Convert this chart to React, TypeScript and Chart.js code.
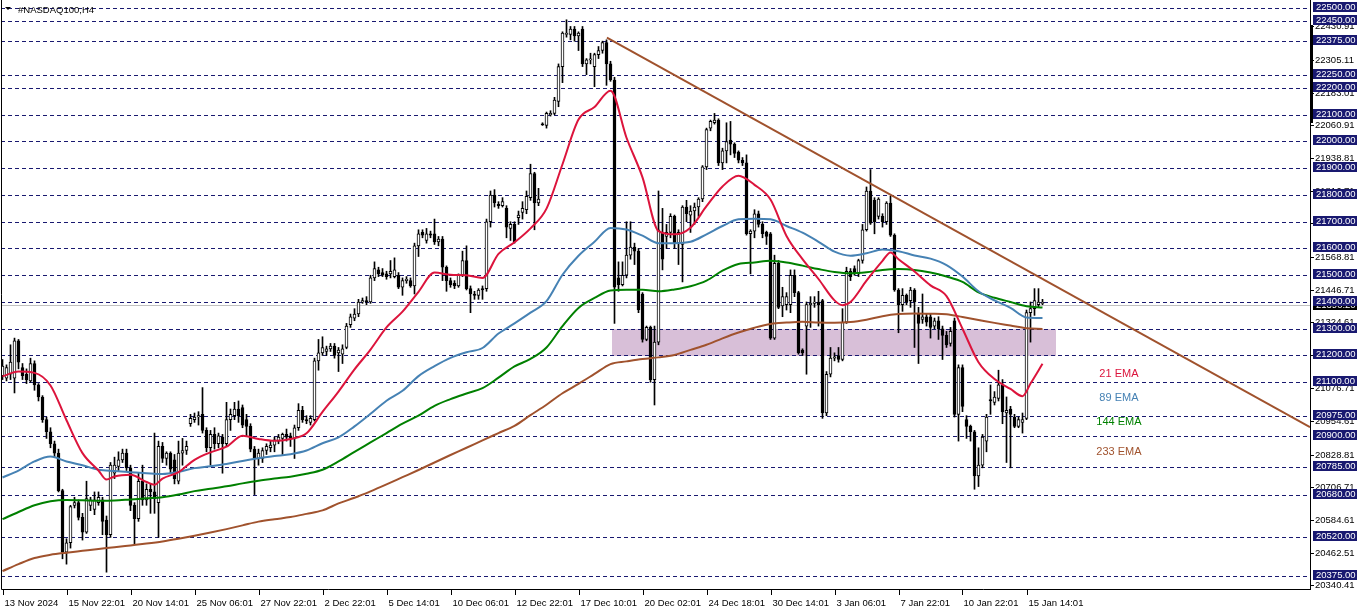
import React, { useEffect, useRef } from 'react';
import { Chart, registerables } from 'chart.js';

Chart.register(...registerables);

// ---------- DATA (H4 bars, bar 0 = 13 Nov 2024) ----------
const opens = [
  21125,21115,21130,21115,21255,21155,21130,21105,21170,21090,
  21045,20960,20915,20870,20835,20695,20465,20500,20640,20650,
  20595,20540,20640,20625,20650,20660,20585,20530,20760,20785,
  20810,20835,20780,20640,20590,20730,20660,20700,20690,20650,
  20860,20815,20835,20810,20730,20835,20845,20945,20960,20970,
  20980,20920,20855,20905,20870,20895,20870,20960,20975,21000,
  21005,20960,20935,20850,20815,20815,20845,20855,20865,20880,
  20890,20905,20900,20890,20930,20995,20960,20950,20960,21180,
  21210,21215,21225,21235,21210,21205,21230,21315,21340,21355,
  21400,21405,21400,21490,21520,21510,21505,21505,21495,21500,
  21455,21480,21480,21460,21610,21660,21630,21655,21655,21625,
  21635,21530,21480,21470,21460,21500,21555,21450,21430,21425,
  21450,21450,21700,21800,21765,21760,21750,21675,21690,21715,
  21735,21745,21790,21880,21770,22066,22060,22100,22105,22150,
  22280,22400,22400,22420,22395,22420,22290,22305,22280,22325,
  22340,22370,22290,22230,21490,21465,21500,21575,21605,21590,
  21430,21260,21305,21110,21250,21660,21645,21660,21720,21620,
  21615,21755,21725,21740,21755,21785,21905,22050,22070,22080,
  21920,21965,22005,21990,21960,21930,21920,21655,21665,21730,
  21690,21660,21655,21265,21545,21385,21390,21390,21500,21435,
  21220,21310,21390,21395,21400,21405,20985,21130,21190,21200,
  21185,21325,21515,21525,21505,21555,21670,21815,21780,21720,
  21720,21700,21770,21650,21445,21390,21425,21405,21445,21355,
  21335,21345,21345,21310,21330,21300,21275,21245,21330,20980,
  21155,20960,20935,20915,20750,20790,20880,21035,21025,21040,
  21090,20985,21000,20970,20935,20950,20965,21360,21375,21390,
  21395,
];
const highs = [
  21185,21165,21240,21265,21260,21170,21150,21190,21180,21095,
  21050,20970,20930,20880,20850,20700,20515,20640,20670,20660,
  20610,20730,20670,20690,20690,20670,20600,20800,20820,20840,
  20850,20850,20790,20650,20760,20790,20720,20720,20910,20880,
  20875,20840,20840,20830,20880,20890,20880,20980,20985,20990,
  21080,20930,20920,20930,20910,20905,21025,21000,21025,21030,
  21015,20980,20945,20860,20850,20855,20870,20880,20895,20905,
  20910,20925,20910,20940,21020,21010,20975,20975,21190,21260,
  21270,21235,21245,21245,21230,21240,21320,21355,21375,21410,
  21415,21420,21500,21550,21530,21525,21515,21555,21565,21510,
  21490,21495,21490,21620,21670,21670,21675,21665,21710,21645,
  21645,21535,21490,21480,21505,21590,21610,21460,21440,21450,
  21460,21710,21815,21820,21775,21790,21760,21700,21700,21740,
  21775,21815,21915,21885,21825,22070,22110,22115,22165,22290,
  22410,22455,22430,22430,22410,22430,22310,22330,22330,22355,
  22375,22380,22300,22240,21550,21550,21700,21700,21620,21600,
  21435,21310,21310,21310,21815,21750,21690,21730,21725,21670,
  21760,21780,21760,21770,21790,21910,22050,22080,22105,22085,
  21975,22070,22075,21995,21965,21940,21950,21670,21745,21740,
  21700,21665,21660,21575,21555,21455,21435,21520,21520,21440,
  21225,21400,21420,21420,21440,21410,21140,21230,21210,21230,
  21375,21530,21525,21535,21560,21690,21830,21895,21790,21790,
  21730,21775,21795,21655,21450,21450,21430,21455,21450,21380,
  21430,21355,21355,21340,21345,21310,21290,21305,21340,21165,
  21165,20975,20940,20920,20855,20905,20980,21090,21065,21145,
  21110,21045,21010,20980,20970,20985,21370,21400,21450,21450,
  21410,
];
const lows = [
  21110,21105,21110,21060,21150,21110,21095,21100,21070,21030,
  20950,20890,20855,20820,20690,20440,20420,20480,20630,20585,
  20510,20535,20620,20605,20640,20530,20390,20520,20740,20770,
  20800,20770,20620,20495,20580,20640,20640,20610,20610,20520,
  20800,20790,20760,20720,20720,20790,20830,20935,20950,20940,
  20910,20840,20790,20850,20855,20760,20860,20920,20960,20950,
  20930,20900,20840,20680,20790,20800,20830,20840,20840,20870,
  20830,20880,20860,20815,20920,20950,20945,20940,20955,21145,
  21200,21200,21215,21190,21140,21170,21225,21305,21330,21345,
  21395,21390,21395,21480,21495,21495,21485,21490,21490,21450,
  21425,21470,21455,21430,21570,21640,21620,21640,21615,21610,
  21480,21440,21455,21450,21455,21495,21445,21360,21410,21410,
  21410,21440,21680,21755,21750,21755,21640,21630,21620,21690,
  21710,21730,21780,21670,21760,22060,22050,22095,22100,22130,
  22220,22390,22380,22375,22340,22280,22250,22290,22205,22310,
  22330,22210,22225,21320,21440,21460,21490,21560,21540,21360,
  21250,21255,21100,21015,21240,21520,21600,21640,21600,21540,
  21475,21700,21660,21690,21720,21775,21895,22040,22065,21910,
  21895,21920,21950,21940,21920,21910,21650,21505,21640,21680,
  21640,21615,21260,21260,21375,21345,21370,21360,21420,21205,
  21200,21130,21305,21380,21310,20965,20975,21120,21180,21175,
  21180,21320,21480,21500,21495,21545,21665,21690,21655,21710,
  21680,21690,21645,21440,21285,21365,21390,21380,21230,21170,
  21320,21310,21265,21300,21260,21185,21230,21235,20970,20880,
  20990,20890,20880,20700,20710,20780,20840,20980,21015,21030,
  20945,20800,20780,20930,20930,20910,20960,21250,21350,21380,
  21390,
];
const closes = [
  21160,21155,21175,21255,21175,21125,21110,21170,21090,21045,
  20960,20915,20870,20835,20695,20465,20500,20635,20650,20595,
  20540,20665,20660,20660,20670,20580,20530,20790,20790,20810,
  20835,20780,20640,20590,20730,20660,20700,20690,20665,20860,
  20815,20835,20775,20740,20835,20845,20860,20965,20970,20975,
  20920,20855,20905,20870,20900,20870,20960,20980,21000,20975,
  20940,20935,20850,20815,20835,20845,20860,20865,20885,20895,
  20905,20895,20890,20930,20995,20960,20955,20965,21180,21210,
  21230,21225,21235,21200,21220,21225,21310,21345,21355,21400,
  21405,21400,21490,21525,21505,21500,21495,21515,21520,21455,
  21480,21485,21460,21610,21655,21650,21655,21650,21625,21635,
  21530,21480,21465,21460,21500,21555,21450,21430,21425,21445,
  21445,21700,21800,21770,21760,21775,21680,21690,21625,21725,
  21750,21795,21880,21770,21785,22062,22105,22105,22155,22280,
  22405,22405,22420,22395,22405,22290,22305,22307,22325,22340,
  22370,22290,22230,21455,21465,21500,21575,21605,21590,21370,
  21260,21305,21110,21250,21670,21560,21660,21720,21620,21660,
  21755,21730,21740,21755,21785,21905,22045,22075,22080,21920,
  21965,22000,21990,21955,21930,21920,21655,21665,21730,21690,
  21655,21645,21265,21545,21380,21420,21420,21500,21435,21210,
  21210,21390,21395,21400,21390,20985,21130,21190,21195,21185,
  21325,21515,21495,21505,21555,21670,21815,21695,21700,21785,
  21700,21770,21650,21445,21390,21425,21400,21445,21400,21320,
  21345,21325,21305,21330,21300,21275,21240,21290,20980,21155,
  21010,20935,20915,20750,20790,20895,20970,21030,21045,21090,
  20990,20995,20980,20935,20960,20960,21360,21375,21405,21400,
  21395,
];

// EMA readings (bar index -> value)
const ema21Bars = [0,4,8,12,16,20,24,26,28,32,36,38,40,44,48,52,56,60,64,68,72,76,80,84,88,92,96,100,104,108,112,116,120,124,128,132,136,140,144,148,152,156,160,164,168,172,176,180,184,188,192,196,200,204,208,210,212,216,220,222,224,228,232,236,240,244,248,252,255,257,260];
const ema21 = [21122,21140,21135,21088,20958,20835,20770,20736,20748,20754,20727,20717,20740,20764,20810,20838,20859,20900,20888,20881,20888,20909,20989,21065,21148,21222,21305,21364,21438,21510,21502,21500,21490,21580,21623,21675,21749,21915,22082,22129,22190,22014,21866,21665,21653,21678,21758,21832,21872,21838,21783,21647,21560,21486,21406,21388,21400,21480,21554,21585,21560,21514,21462,21422,21300,21175,21112,21075,21048,21095,21169];
const emaBars = [0,4,8,12,16,20,24,28,32,36,40,44,48,52,56,60,64,68,72,76,80,84,88,92,96,100,104,108,112,116,120,124,128,132,136,140,144,148,152,156,160,164,168,172,176,180,184,188,192,196,200,204,208,212,216,220,224,228,232,236,240,244,248,252,256,260];
const ema89 = [20744,20770,20804,20822,20804,20790,20773,20768,20764,20760,20757,20765,20779,20786,20794,20806,20816,20824,20831,20845,20872,20894,20935,20982,21031,21068,21123,21160,21191,21212,21228,21282,21320,21360,21403,21502,21573,21625,21677,21671,21648,21620,21620,21625,21653,21684,21709,21711,21709,21684,21659,21625,21588,21573,21582,21596,21590,21574,21562,21538,21495,21440,21406,21378,21342,21340];
const ema144 = [20588,20615,20640,20655,20660,20659,20657,20658,20662,20666,20670,20680,20693,20702,20711,20722,20732,20740,20747,20758,20773,20804,20840,20875,20910,20945,20975,21012,21037,21058,21078,21117,21159,21187,21230,21310,21378,21415,21443,21446,21446,21440,21447,21459,21480,21517,21542,21548,21554,21548,21536,21523,21512,21507,21511,21520,21523,21520,21510,21495,21475,21436,21416,21400,21384,21379];
const ema233 = [20394,20420,20443,20455,20463,20470,20477,20483,20490,20497,20505,20515,20526,20538,20551,20565,20579,20588,20596,20608,20621,20647,20668,20692,20718,20745,20772,20800,20828,20855,20883,20910,20937,20977,21016,21059,21094,21131,21168,21178,21187,21193,21202,21221,21240,21264,21286,21304,21318,21323,21326,21323,21322,21325,21334,21347,21355,21357,21356,21354,21344,21333,21322,21312,21302,21299];

const trendBars = [151.1, 326.875];
const trendPrices = [22388, 20932];
const zoneBars = [152.25, 263.25];
const zonePrices = [21200, 21300];

const levelLines = [22500,22450,22375,22250,22200,22100,22000,21900,21800,21700,21600,21500,21400,21300,21200,21100,20975,20900,20785,20680,20520,20375];
const axisTicks = [22430.91,22305.11,22183.01,22060.91,21938.81,21816.71,21694.61,21568.81,21446.71,21324.61,21202.51,21076.71,20954.61,20828.81,20706.71,20584.61,20462.51,20340.41];
const bidPrice = 21390.2;

const dateBars = [0,16,32,48,64,80,96,112,128,144,160,176,192,208,224,240,256];
const dateLabels = ['13 Nov 2024','15 Nov 22:01','20 Nov 14:01','25 Nov 06:01','27 Nov 22:01','2 Dec 22:01','5 Dec 14:01','10 Dec 06:01','12 Dec 22:01','17 Dec 10:01','20 Dec 02:01','24 Dec 18:01','30 Dec 14:01','3 Jan 06:01','7 Jan 22:01','10 Jan 22:01','15 Jan 14:01'];

const emaLabelTexts = ['21 EMA','89 EMA','144 EMA','233 EMA'];
const emaLabelPrices = [21131, 21043, 20953, 20838];
const emaLabelBar = 279.1;
const emaColors = ['#dc143c', '#4682b4', '#008000', '#a0522d'];

const W = 1362;
const H = 611;
const FONT = '9.5px "Liberation Sans", Arial, sans-serif';
const NAVY = '#191970';

const overlayPlugin = {
  id: 'mtOverlay',
  beforeDatasetsDraw(chart: any) {
    const { ctx, chartArea: a, scales } = chart;
    const x = scales.x, y = scales.y;
    ctx.save();
    // zone rectangle
    const zx0 = x.getPixelForValue(zoneBars[0]);
    const zx1 = x.getPixelForValue(zoneBars[1]);
    const zy0 = y.getPixelForValue(zonePrices[1]);
    const zy1 = y.getPixelForValue(zonePrices[0]);
    ctx.fillStyle = '#d8bfd8';
    ctx.fillRect(Math.round(zx0), Math.round(zy0), Math.round(zx1 - zx0), Math.round(zy1 - zy0));
    // dashed levels
    ctx.strokeStyle = NAVY;
    ctx.lineWidth = 1;
    ctx.setLineDash([4, 3]);
    for (const p of levelLines) {
      const py = Math.round(y.getPixelForValue(p)) + 0.5;
      ctx.beginPath();
      ctx.moveTo(a.left, py);
      ctx.lineTo(a.right, py);
      ctx.stroke();
    }
    ctx.setLineDash([]);
    // bid line
    const by = Math.round(y.getPixelForValue(bidPrice)) + 0.5;
    ctx.strokeStyle = '#c0c0c0';
    ctx.beginPath();
    ctx.moveTo(a.left, by);
    ctx.lineTo(a.right, by);
    ctx.stroke();
    ctx.restore();
  },
  afterDraw(chart: any) {
    const { ctx, chartArea: a, scales } = chart;
    const x = scales.x, y = scales.y;
    ctx.save();
    // EMA text labels
    ctx.font = '11px "Liberation Sans", Arial, sans-serif';
    ctx.textAlign = 'center';
    ctx.textBaseline = 'middle';
    emaLabelTexts.forEach((t, k) => {
      ctx.fillStyle = emaColors[k];
      ctx.fillText(t, x.getPixelForValue(emaLabelBar), y.getPixelForValue(emaLabelPrices[k]));
    });

    // frame
    ctx.strokeStyle = '#000';
    ctx.lineWidth = 1;
    ctx.beginPath();
    ctx.moveTo(a.left + 0.5, 0);
    ctx.lineTo(a.left + 0.5, a.bottom + 0.5);
    ctx.lineTo(a.right + 0.5, a.bottom + 0.5);
    ctx.moveTo(a.right + 0.5, 0);
    ctx.lineTo(a.right + 0.5, a.bottom + 1);
    ctx.stroke();
    ctx.fillStyle = '#000';
    ctx.fillRect(a.right, 25, 3, 98);

    // title
    ctx.beginPath();
    ctx.moveTo(5, 7);
    ctx.lineTo(11, 7);
    ctx.lineTo(8, 10);
    ctx.closePath();
    ctx.fill();
    ctx.font = FONT;
    ctx.textAlign = 'left';
    ctx.textBaseline = 'middle';
    ctx.fillText('#NASDAQ100,H4', 18, 10);

    // price axis ticks
    for (const v of axisTicks) {
      const py = Math.round(y.getPixelForValue(v)) + 0.5;
      ctx.strokeStyle = '#000';
      ctx.beginPath();
      ctx.moveTo(a.right, py);
      ctx.lineTo(a.right + 4, py);
      ctx.stroke();
      ctx.fillStyle = '#000';
      ctx.fillText(v.toFixed(2), a.right + 5, py);
    }
    // bid label
    const by = Math.round(y.getPixelForValue(bidPrice));
    ctx.fillStyle = '#000';
    ctx.fillRect(a.right + 3, by - 5, 44, 10);
    ctx.fillStyle = '#fff';
    ctx.fillText(bidPrice.toFixed(2), a.right + 6, by);
    // level labels
    for (const p of levelLines) {
      const py = Math.round(y.getPixelForValue(p));
      ctx.fillStyle = NAVY;
      ctx.fillRect(a.right + 3, py - 6, 44, 10);
      ctx.fillStyle = '#fff';
      ctx.fillText(p.toFixed(2), a.right + 6, py - 1);
    }

    // time axis
    dateBars.forEach((b, k) => {
      const px = Math.round(x.getPixelForValue(b)) + 0.5;
      ctx.strokeStyle = '#000';
      ctx.beginPath();
      ctx.moveTo(px, a.bottom);
      ctx.lineTo(px, a.bottom + 6);
      ctx.stroke();
      ctx.fillStyle = '#000';
      ctx.fillText(dateLabels[k], px + 1, a.bottom + 14);
    });
    ctx.restore();
  },
};

function toPoints(bars: number[], vals: number[]) {
  return bars.map((b, i) => ({ x: b, y: vals[i] }));
}

export default function App() {
  const ref = useRef<HTMLCanvasElement>(null);
  useEffect(() => {
    document.body.style.margin = '0';
    const canvas = ref.current;
    if (!canvas) return;
    const idx = closes.map((_, i) => i);
    const lineDs = (label: string, data: any[], color: string, order: number) => ({
      type: 'line' as const,
      label,
      data,
      borderColor: color,
      backgroundColor: color,
      borderWidth: 2,
      pointRadius: 0,
      cubicInterpolationMode: 'monotone' as const,
      fill: false,
      order,
    });
    const chart = new Chart(canvas, {
      type: 'bar',
      data: {
        datasets: [
          {
            type: 'bar',
            label: 'wicks',
            data: idx.map((i) => ({ x: i, y: [lows[i], highs[i]] })),
            backgroundColor: '#000',
            borderWidth: 0,
            barThickness: 1,
            grouped: false,
            order: 10,
          } as any,
          {
            type: 'bar',
            label: 'bodies',
            data: idx.map((i) => ({ x: i, y: [opens[i], closes[i]] })),
            backgroundColor: idx.map((i) => (closes[i] >= opens[i] ? '#ffffff' : '#000000')),
            borderColor: '#000',
            borderWidth: 1,
            borderSkipped: false,
            barThickness: 3,
            minBarLength: 1,
            grouped: false,
            order: 9,
          } as any,
          lineDs('EMA 233', toPoints(emaBars, ema233), '#a0522d', 5),
          lineDs('EMA 144', toPoints(emaBars, ema144), '#008000', 4),
          lineDs('EMA 89', toPoints(emaBars, ema89), '#4682b4', 3),
          lineDs('EMA 21', toPoints(ema21Bars, ema21), '#dc143c', 2),
          {
            type: 'line',
            label: 'trend',
            data: toPoints(trendBars, trendPrices),
            borderColor: '#a0522d',
            borderWidth: 2,
            pointRadius: 0,
            tension: 0,
            fill: false,
            order: 1,
          } as any,
        ],
      },
      options: {
        responsive: false,
        animation: false,
        devicePixelRatio: 1,
        events: [],
        layout: { padding: { left: 1, top: 1, right: W - 1310, bottom: H - 589 } },
        plugins: { legend: { display: false }, tooltip: { enabled: false }, title: { display: false } },
        scales: {
          x: { type: 'linear', min: -0.375, max: 326.875, offset: false, display: false },
          y: { type: 'linear', min: 20327.1, max: 22525.2, display: false },
        },
      },
      plugins: [overlayPlugin],
    } as any);
    return () => chart.destroy();
  }, []);
  return (
    <div style={{ width: W, height: H, background: '#fff' }}>
      <canvas ref={ref} width={W} height={H} style={{ display: 'block' }} />
    </div>
  );
}
